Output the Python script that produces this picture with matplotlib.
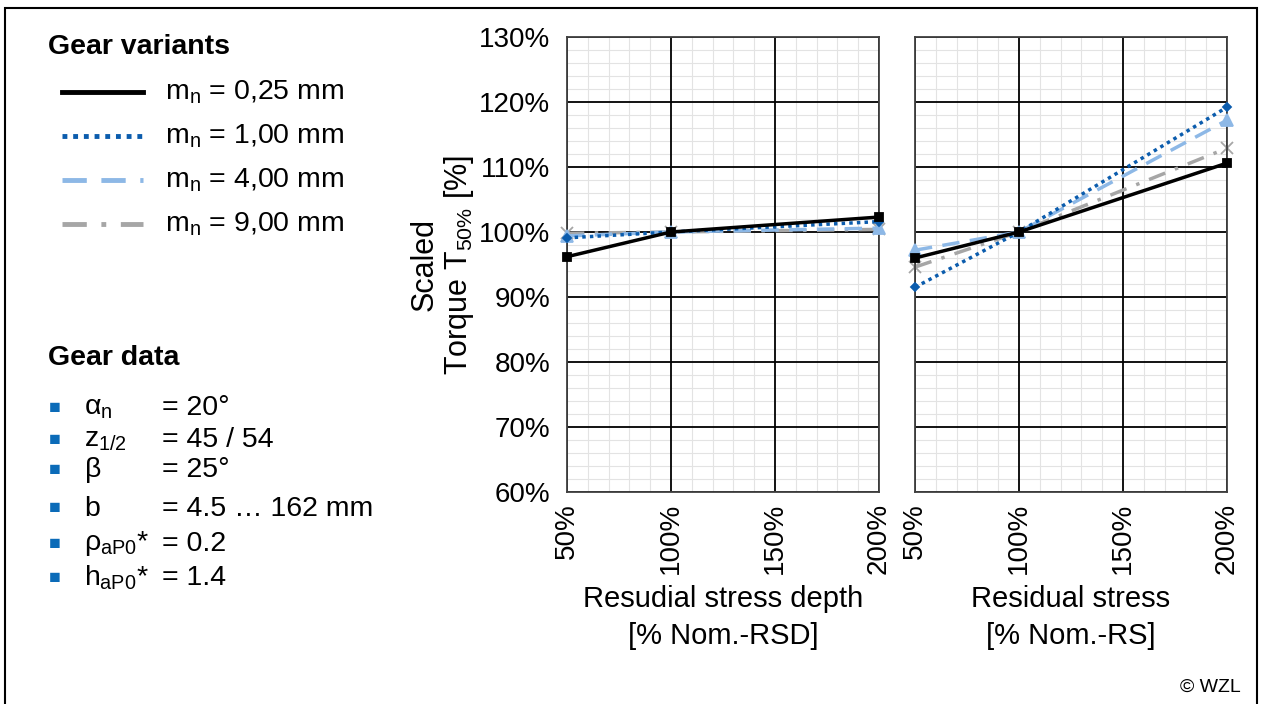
import matplotlib.pyplot as plt
from matplotlib.patches import Rectangle
from matplotlib.ticker import MultipleLocator, PercentFormatter

plt.rcParams['font.family'] = ['Liberation Sans', 'DejaVu Sans']
plt.rcParams['mathtext.fontset'] = 'custom'
plt.rcParams['mathtext.rm'] = 'Liberation Sans'
plt.rcParams['mathtext.it'] = 'Liberation Sans'

# data
x_pos = [50, 100, 200]
variants = ['0,25', '1,00', '4,00', '9,00']
depth_vals = [
    [96.2, 100.0, 102.3],
    [99.1, 100.0, 101.6],
    [99.4, 100.0, 100.6],
    [99.8, 100.0, 100.4],
]
stress_vals = [
    [96.0, 100.0, 110.6],
    [91.5, 100.0, 119.2],
    [97.2, 100.0, 117.2],
    [94.6, 100.0, 112.9],
]
gear_names = [r'$\alpha_{n}$', r'$z_{1/2}$', r'$\beta$', 'b',
              r'$\rho_{aP0}$*', r'$h_{aP0}$*']
gear_values = ['= 20°', '= 45 / 54', '= 25°', '= 4.5 … 162 mm', '= 0.2', '= 1.4']

colors = ['black', '#0B5CAD', '#8DB8E6', '#A6A6A6']
styles = ['-', (0, (1, 1.2)), (0, (5, 3)), (0, (5, 3, 1, 3))]
markers = ['s', 'D', '^', 'x']
msizes = [5.5, 4.5, 8, 8]

fig = plt.figure(figsize=(12.62, 7.04), dpi=100)
W, H = 1262, 704

def px(x0, y0, x1, y1):
    return [x0 / W, 1 - y1 / H, (x1 - x0) / W, (y1 - y0) / H]

ax1 = fig.add_axes(px(567, 37, 879, 492))
ax2 = fig.add_axes(px(915, 37, 1227, 492))

x_minor = [v for v in range(60, 200, 10) if v % 50 != 0]
y_minor = [v for v in range(62, 130, 2) if v % 10 != 0]

for ax, vals in [(ax1, depth_vals), (ax2, stress_vals)]:
    # light minor grid underneath the black major grid
    for v in x_minor:
        ax.axvline(v, color='#E3E3E3', linewidth=0.8, zorder=0.1)
    for v in y_minor:
        ax.axhline(v, color='#E3E3E3', linewidth=0.8, zorder=0.1)
    for i in range(len(variants)):
        ax.plot(x_pos, vals[i], color=colors[i], linestyle=styles[i],
                linewidth=2.5, marker=markers[i], markersize=msizes[i],
                markeredgewidth=1.3, clip_on=False, zorder=5 - i)
    ax.set_xlim(50, 200)
    ax.set_ylim(60, 130)
    ax.xaxis.set_major_locator(MultipleLocator(50))
    ax.yaxis.set_major_locator(MultipleLocator(10))
    ax.grid(which='major', color='black', linewidth=1.3)
    ax.set_axisbelow(True)
    for s in ax.spines.values():
        s.set_color('#404040')
        s.set_linewidth(1.3)
    ax.tick_params(which='both', length=0)
    ax.tick_params(axis='x', labelrotation=90, labelsize=20, pad=8)
    ax.tick_params(axis='y', labelsize=20, pad=12)
    ax.xaxis.set_major_formatter(PercentFormatter(decimals=0))
    ax.yaxis.set_major_formatter(PercentFormatter(decimals=0))

ax2.tick_params(axis='y', labelleft=False)
ax1.set_ylabel('Scaled\nTorque T$_{50\\%}$ [%]', fontsize=22, labelpad=2,
               linespacing=1.1)
ax1.set_xlabel('Resudial stress depth\n[% Nom.-RSD]', fontsize=21, labelpad=8,
               linespacing=1.4)
ax2.set_xlabel('Residual stress\n[% Nom.-RS]', fontsize=21, labelpad=8,
               linespacing=1.4)

# left legend
fig.text(48 / W, 1 - 47 / H, 'Gear variants', fontsize=20.5, fontweight='bold',
         va='center')
leg_y = [92, 136, 180, 224]
for i, v in enumerate(variants):
    y = 1 - leg_y[i] / H
    fig.add_artist(plt.Line2D([62 / W, 143 / W], [y, y], color=colors[i],
                              linestyle=styles[i], linewidth=3.5))
    fig.text(165 / W, y, r'm$_{n}$ = ' + v + ' mm', fontsize=20.5, va='center')

fig.text(48 / W, 1 - 358 / H, 'Gear data', fontsize=20.5, fontweight='bold',
         va='center')
data_y = [408, 440, 470, 509, 544, 578]
for i in range(len(gear_names)):
    y = 1 - data_y[i] / H
    fig.text(55 / W, y, '■', fontsize=14, color='#0B6BB8', va='center',
             ha='center')
    fig.text(84 / W, y, gear_names[i], fontsize=20.5, va='center')
    fig.text(162 / W, y, gear_values[i], fontsize=20.5, va='center')

fig.text(1210 / W, 1 - 687 / H, '© WZL', fontsize=14, ha='center', va='center')

fig.add_artist(Rectangle((5 / W, -0.1), 1252 / W, 1.1 - 8 / H, fill=False,
                         edgecolor='black', linewidth=1.5,
                         transform=fig.transFigure))

fig.savefig('out.png', dpi=100)
